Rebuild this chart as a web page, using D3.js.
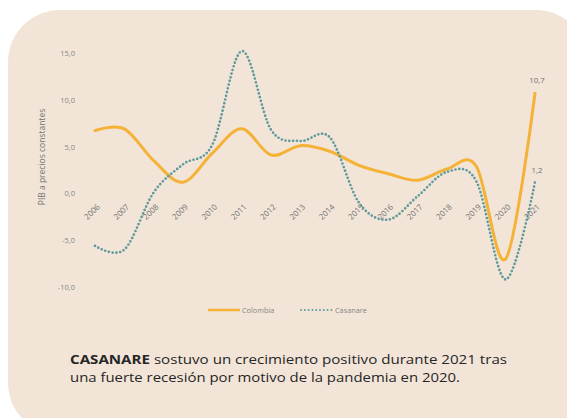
<!DOCTYPE html>
<html>
<head>
<meta charset="utf-8">
<script src="https://cdn.jsdelivr.net/npm/d3@7"></script>
<style>
  body { margin: 0; background: #ffffff; }
  svg { display: block; }
</style>
</head>
<body>
<div id="chart"></div>
<script>
// PIB a precios constantes, variacion anual (%)
var years = [2006, 2007, 2008, 2009, 2010, 2011, 2012, 2013, 2014, 2015, 2016, 2017, 2018, 2019, 2020, 2021];
var colombia = [6.7, 6.9, 3.5, 1.2, 4.3, 6.9, 4.1, 5.1, 4.5, 3.0, 2.1, 1.4, 2.6, 2.9, -7.0, 10.7];
var casanare = [-5.6, -6.0, 0.1, 3.1, 5.2, 15.2, 6.8, 5.6, 6.0, -1.0, -2.8, -0.3, 2.3, 1.3, -9.2, 1.2];
var yTicks = [-10, -5, 0, 5, 10, 15];
var seriesNames = ["Colombia", "Casanare"];

width = 567
height = 418
colColombia = "#f4b236"
colCasanare = "#5f9a9b"
greyText = "#858585"

d3.formatDefaultLocale({decimal: ",", thousands: ".", grouping: [3], currency: ["$", ""], minus: "-"});
var fmt = d3.format(".1f");

var svg = d3.select("#chart").append("svg")
    .attr("width", width)
    .attr("height", height);

// card background
svg.append("rect")
    .attr("x", 8)
    .attr("y", 10)
    .attr("width", 580)
    .attr("height", 425)
    .attr("rx", 52)
    .attr("ry", 52)
    .attr("fill", "#f2e5d8");

var x = d3.scalePoint().domain(years).range([95, 535]);
var y = d3.scaleLinear().domain([-10, 15]).range([287, 53]);

// y axis labels only
var yAxis = d3.axisLeft(y).tickValues(yTicks).tickSize(0).tickPadding(0).tickFormat(fmt);
var gy = svg.append("g").attr("transform", "translate(75,0)").call(yAxis);
gy.select(".domain").remove();
gy.selectAll("text")
    .attr("fill", greyText)
    .style("font-family", "'Open Sans', sans-serif")
    .style("font-size", "7.5px");

svg.append("text")
    .text("PIB a precios constantes")
    .attr("transform", "translate(45,157) rotate(-90)")
    .attr("text-anchor", "middle")
    .attr("fill", "#747474")
    .style("font-family", "'Open Sans', sans-serif")
    .style("font-size", "8.5px");

// year labels sit on the zero line, turned 45 degrees
var xAxis = d3.axisBottom(x).tickSize(0).tickPadding(0);
var gx = svg.append("g").attr("transform", "translate(0," + y(0) + ")").call(xAxis);
gx.select(".domain").remove();
gx.selectAll("text")
    .attr("text-anchor", "end")
    .attr("dy", null)
    .attr("y", 0)
    .attr("transform", "translate(5,14) rotate(-45)")
    .attr("fill", "#747474")
    .style("font-family", "'Open Sans', sans-serif")
    .style("font-size", "8px");

var line = d3.line()
    .x(function(d, i) { return x(years[i]); })
    .y(function(d) { return y(d); })
    .curve(d3.curveCardinal);

svg.append("path")
    .datum(colombia)
    .attr("d", line)
    .attr("fill", "none")
    .attr("stroke", colColombia)
    .attr("stroke-width", 3)
    .attr("stroke-linecap", "round");

svg.append("path")
    .datum(casanare)
    .attr("d", line)
    .attr("fill", "none")
    .attr("stroke", colCasanare)
    .attr("stroke-width", 2.7)
    .attr("stroke-linecap", "round")
    .attr("stroke-dasharray", "0 3.8");

// end labels
var last = years.length - 1;
svg.append("text")
    .text(fmt(colombia[last]))
    .attr("x", x(years[last]) + 2)
    .attr("y", y(colombia[last]) - 10)
    .attr("text-anchor", "middle")
    .attr("fill", "#6e6e6e")
    .style("font-family", "'Open Sans', sans-serif")
    .style("font-size", "7.8px");

svg.append("text")
    .text(fmt(casanare[last]))
    .attr("x", x(years[last]) + 2)
    .attr("y", y(casanare[last]) - 9)
    .attr("text-anchor", "middle")
    .attr("fill", "#6e6e6e")
    .style("font-family", "'Open Sans', sans-serif")
    .style("font-size", "7.8px");

// legend
var legY = 310;
var leg = svg.append("g");
leg.append("line")
    .attr("x1", 208).attr("x2", 240).attr("y1", legY).attr("y2", legY)
    .attr("stroke", colColombia).attr("stroke-width", 2.5);
leg.append("text")
    .text(seriesNames[0])
    .attr("x", 242).attr("y", legY + 2.5)
    .attr("fill", greyText)
    .style("font-family", "'Open Sans', sans-serif")
    .style("font-size", "7.3px");
leg.append("line")
    .attr("x1", 301).attr("x2", 332).attr("y1", legY).attr("y2", legY)
    .attr("stroke", colCasanare).attr("stroke-width", 2)
    .attr("stroke-linecap", "round")
    .attr("stroke-dasharray", "0 3.8");
leg.append("text")
    .text(seriesNames[1])
    .attr("x", 335).attr("y", legY + 2.5)
    .attr("fill", greyText)
    .style("font-family", "'Open Sans', sans-serif")
    .style("font-size", "7.3px");

// caption
var cap = svg.append("text")
    .attr("x", 70)
    .attr("y", 364)
    .attr("fill", "#262626")
    .attr("textLength", 437)
    .attr("lengthAdjust", "spacingAndGlyphs")
    .style("font-family", "'Open Sans', sans-serif")
    .style("font-size", "13px");
cap.append("tspan").text("CASANARE").style("font-weight", "bold");
cap.append("tspan").text(" sostuvo un crecimiento positivo durante 2021 tras");
svg.append("text")
    .attr("x", 70)
    .attr("y", 382)
    .attr("fill", "#262626")
    .attr("textLength", 390)
    .attr("lengthAdjust", "spacingAndGlyphs")
    .style("font-family", "'Open Sans', sans-serif")
    .style("font-size", "13px")
    .text("una fuerte recesión por motivo de la pandemia en 2020.");
</script>
</body>
</html>
